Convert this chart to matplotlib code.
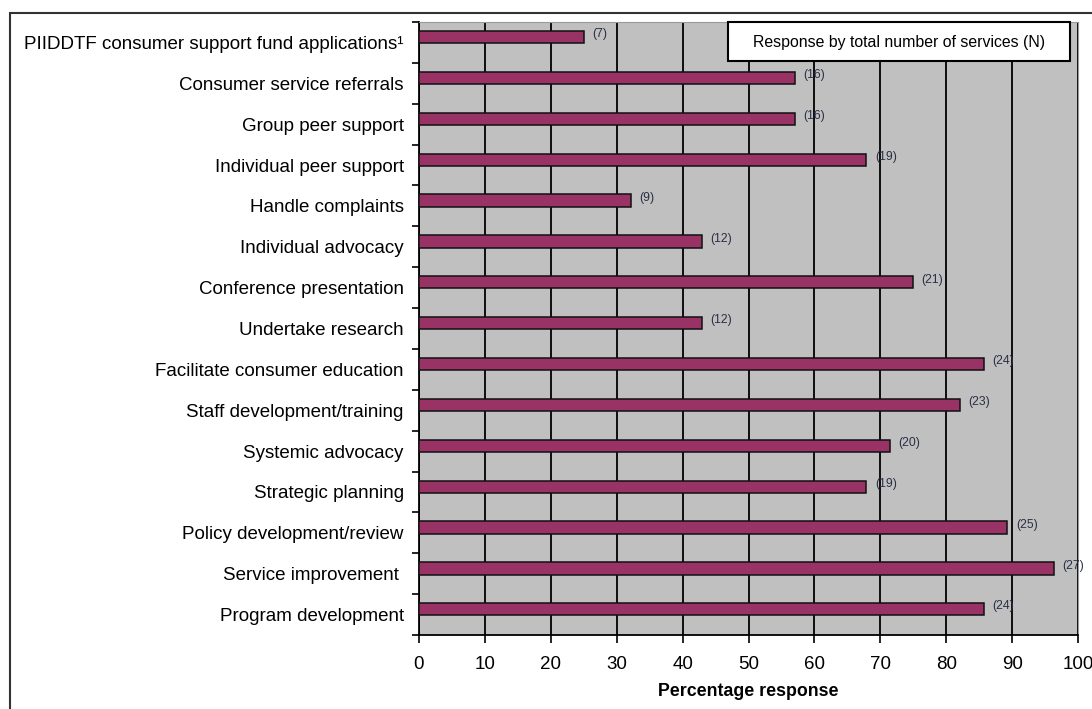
import matplotlib
matplotlib.use("Agg")
import matplotlib.pyplot as plt
from matplotlib.patches import Rectangle
import numpy as np

categories = [
    "PIIDDTF consumer support fund applications\u00b9",
    "Consumer service referrals",
    "Group peer support",
    "Individual peer support",
    "Handle complaints",
    "Individual advocacy",
    "Conference presentation",
    "Undertake research",
    "Facilitate consumer education",
    "Staff development/training",
    "Systemic advocacy",
    "Strategic planning",
    "Policy development/review",
    "Service improvement ",
    "Program development",
]
percent = [25.0, 57.1, 57.1, 67.9, 32.1, 42.9, 75.0, 42.9, 85.7, 82.1, 71.4, 67.9, 89.3, 96.4, 85.7]
n_services = [7, 16, 16, 19, 9, 12, 21, 12, 24, 23, 20, 19, 25, 27, 24]
x_ticks = [0, 10, 20, 30, 40, 50, 60, 70, 80, 90, 100]

plt.rcParams['font.family'] = ['Liberation Sans', 'DejaVu Sans']

W, H = 1092, 709
fig = plt.figure(figsize=(W / 100, H / 100), dpi=100)
ax = fig.add_axes([419 / W, 1 - 635 / H, (1078 - 419) / W, (635 - 22) / H])

# outer frame
fig.patches.append(Rectangle((10 / W, -0.05), 1.2, 1 - 13 / H + 0.05, transform=fig.transFigure,
                             fill=False, edgecolor='#333333', linewidth=1.5, zorder=0))

ax.set_facecolor('#C0C0C0')
pos = np.arange(len(categories))
bar_pos = pos - 0.13
ax.barh(bar_pos, percent, height=0.3, color='#993366', edgecolor='#111111', linewidth=1.1, zorder=3)

for y, v, n in zip(bar_pos, percent, n_services):
    ax.annotate(f"({n})", (v, y), xytext=(6, 2), textcoords='offset points',
                ha='left', va='center', fontsize=8.8, color='#2a2f45', zorder=4)

ax.set_xlim(0, 100)
ax.set_ylim(len(categories) - 0.5, -0.5)
ax.set_xticks(x_ticks)
ax.set_xticklabels([str(t) for t in x_ticks], fontsize=13.5)
ax.set_yticks(pos)
ax.set_yticklabels(categories, fontsize=13.5)
ax.set_yticks(np.arange(len(categories) + 1) - 0.5, minor=True)
ax.tick_params(axis='y', which='major', length=0, pad=11)
ax.tick_params(axis='y', which='minor', length=5, width=1.2, direction='out')
ax.tick_params(axis='x', which='major', length=6, width=1.2, direction='out', pad=9)

ax.grid(axis='x', color='black', linewidth=1.3, zorder=1)
ax.set_axisbelow(True)

for s in ['top', 'right']:
    ax.spines[s].set_color('#999999')
    ax.spines[s].set_linewidth(0.8)
for s in ['left', 'bottom']:
    ax.spines[s].set_color('black')
    ax.spines[s].set_linewidth(1.3)

ax.set_xlabel("Percentage response", fontsize=12.8, fontweight='bold', labelpad=7)

# legend-like box
fig.patches.append(Rectangle((728 / W, 1 - 61 / H), (1070 - 728) / W, 39 / H, transform=fig.transFigure,
                             facecolor='white', edgecolor='black', linewidth=1.5, zorder=7))
fig.text((728 + 1070) / 2 / W, 1 - 42 / H, "Response by total number of services (N)",
         ha='center', va='center', fontsize=11.4, zorder=8)

fig.savefig("out.png", dpi=100)
